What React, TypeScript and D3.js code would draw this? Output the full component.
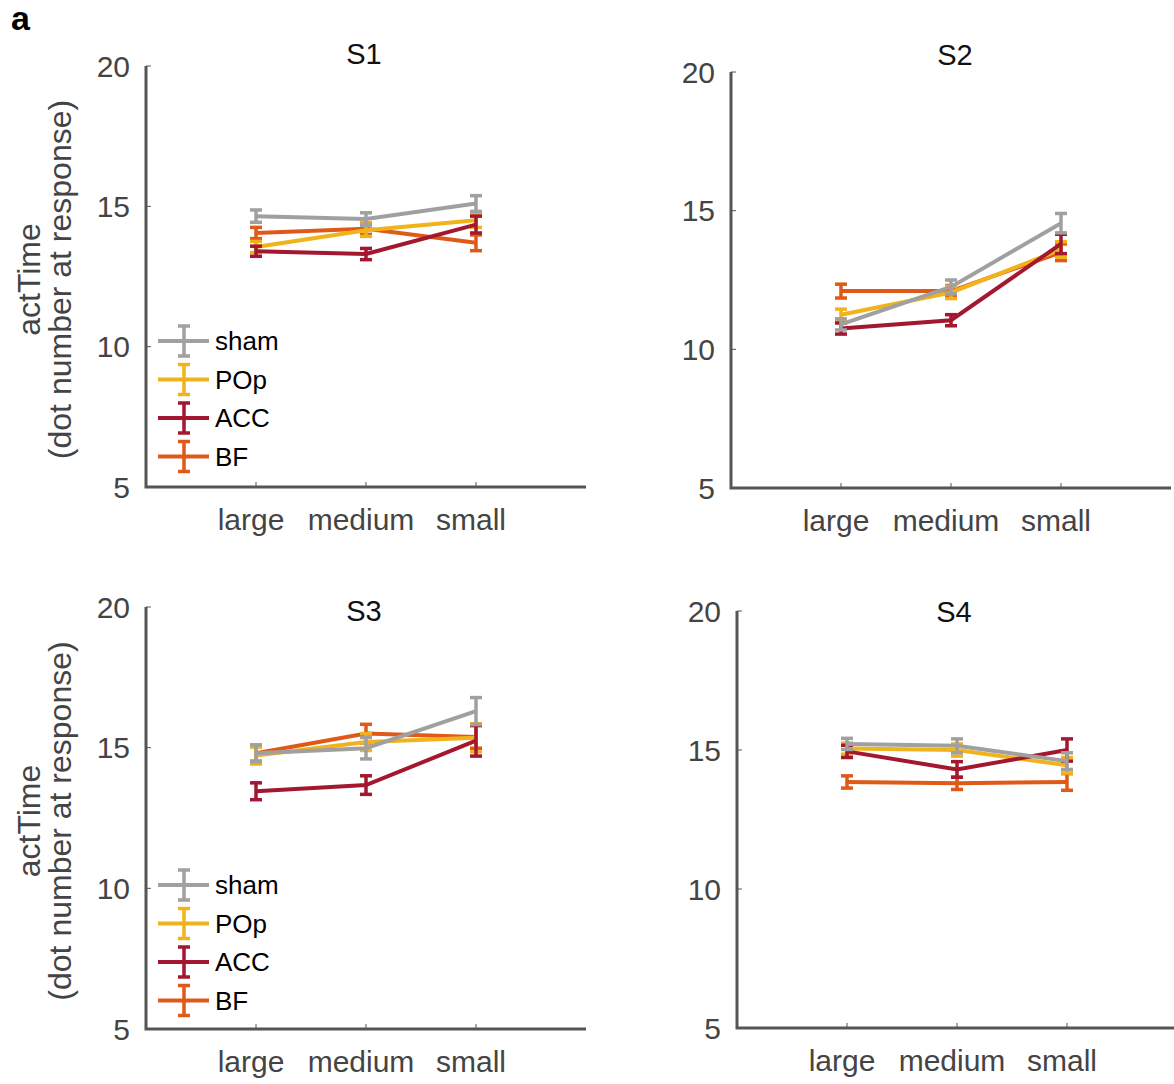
import React from 'react';
import * as d3 from 'd3';

const conditions = ['large', 'medium', 'small'];
const groups = ['sham', 'POp', 'ACC', 'BF'];
const groupColors = ['#a0a0a0', '#f1b31c', '#a3172f', '#df5a19'];
const yTicks = [5, 10, 15, 20];

// mean actTime per group (rows) and condition (cols)
const s1Mean = [[14.65, 14.55, 15.1], [13.55, 14.15, 14.5], [13.4, 13.3, 14.35], [14.05, 14.2, 13.7]];
const s1Sem = [[0.22, 0.22, 0.28], [0.2, 0.22, 0.25], [0.18, 0.2, 0.3], [0.2, 0.2, 0.28]];
const s2Mean = [[10.9, 12.25, 14.55], [11.25, 12.05, 13.6], [10.75, 11.05, 13.8], [12.1, 12.1, 13.5]];
const s2Sem = [[0.2, 0.25, 0.35], [0.2, 0.22, 0.28], [0.2, 0.2, 0.35], [0.25, 0.2, 0.3]];
const s3Mean = [[14.8, 14.98, 16.3], [14.72, 15.2, 15.35], [13.45, 13.67, 15.25], [14.8, 15.5, 15.38]];
const s3Sem = [[0.3, 0.38, 0.48], [0.3, 0.3, 0.5], [0.3, 0.33, 0.55], [0.28, 0.33, 0.4]];
const s4Mean = [[15.22, 15.15, 14.6], [15.05, 15.0, 14.45], [14.95, 14.3, 15.0], [13.85, 13.8, 13.85]];
const s4Sem = [[0.2, 0.25, 0.3], [0.2, 0.22, 0.28], [0.22, 0.28, 0.4], [0.22, 0.22, 0.3]];

const font = '"Liberation Sans", Arial, Helvetica, sans-serif';
const axisColor = '#555555';
const labelColor = '#444444';
const drawOrder = [3, 1, 2, 0];

function Panel({ title, titlePos, mean, sem, x0, x1, yTop, yBot, yLabel, legend }) {
  const x = d3.scaleLinear().domain([0, 4]).range([x0, x1]);
  const y = d3.scaleLinear().domain([5, 20]).range([yBot, yTop]);
  const line = d3.line<number>().x((d, i) => x(i + 1)).y(d => y(d));
  const cap = 6;
  const midY = (yTop + yBot) / 2;

  return (
    <g>
      <text x={titlePos[0]} y={titlePos[1]} textAnchor="middle" fontSize={29} fill="#111">{title}</text>

      {yTicks.map(t => (
        <g key={t}>
          <line x1={x0} x2={x0 + 5} y1={y(t)} y2={y(t)} stroke={axisColor} strokeWidth={1} />
          <text x={x0 - 16} y={y(t)} dy="0.36em" textAnchor="end" fontSize={30} fill={labelColor}>{t}</text>
        </g>
      ))}
      {conditions.map((c, i) => (
        <g key={c}>
          <line x1={x(i + 1)} x2={x(i + 1)} y1={yBot} y2={yBot - 5} stroke={axisColor} strokeWidth={1} />
          <text x={x(i + 1) - 5} y={yBot + 43} textAnchor="middle" fontSize={30} fill={labelColor}>{c}</text>
        </g>
      ))}
      <path d={`M${x0},${yTop}V${yBot}H${x1}`} fill="none" stroke={axisColor} strokeWidth={3} />

      {yLabel && (
        <text transform={`translate(40,${midY + 3}) rotate(-90)`} textAnchor="middle" fontSize={32} fill={labelColor}>
          <tspan x={0} dy={0}>actTime</tspan>
          <tspan x={0} dy={31}>(dot number at response)</tspan>
        </text>
      )}

      {drawOrder.map(g => (
        <g key={groups[g]} stroke={groupColors[g]} fill="none">
          <path d={line(mean[g])} strokeWidth={4} />
          {mean[g].map((m, i) => (
            <g key={i} strokeWidth={3.5}>
              <line x1={x(i + 1)} x2={x(i + 1)} y1={y(m - sem[g][i])} y2={y(m + sem[g][i])} />
              <line x1={x(i + 1) - cap} x2={x(i + 1) + cap} y1={y(m - sem[g][i])} y2={y(m - sem[g][i])} />
              <line x1={x(i + 1) - cap} x2={x(i + 1) + cap} y1={y(m + sem[g][i])} y2={y(m + sem[g][i])} />
            </g>
          ))}
        </g>
      ))}

      {legend && groups.map((name, g) => {
        const ly = legend.y + g * 38.5;
        return (
          <g key={name}>
            <g stroke={groupColors[g]} strokeWidth={3.5}>
              <line x1={158} x2={209} y1={ly} y2={ly} strokeWidth={4} />
              <line x1={184} x2={184} y1={ly - 15} y2={ly + 15} />
              <line x1={184 - cap} x2={184 + cap} y1={ly - 15} y2={ly - 15} />
              <line x1={184 - cap} x2={184 + cap} y1={ly + 15} y2={ly + 15} />
            </g>
            <text x={215} y={ly} dy="0.36em" fontSize={26} fill="#000">{name}</text>
          </g>
        );
      })}
    </g>
  );
}

export default function App() {
  return (
    <svg width={1174} height={1084} style={{ position: 'absolute', left: 0, top: 0, fontFamily: font }}>
      <rect width={1174} height={1084} fill="#fff" />
      <text x={11} y={30} fontSize={34} fontWeight="bold" fill="#000">a</text>
      <Panel title="S1" titlePos={[364, 64]} mean={s1Mean} sem={s1Sem} x0={146} x1={586} yTop={66} yBot={487} yLabel legend={{ y: 341 }} />
      <Panel title="S2" titlePos={[955, 65]} mean={s2Mean} sem={s2Sem} x0={731} x1={1171} yTop={72} yBot={488} yLabel={false} legend={null} />
      <Panel title="S3" titlePos={[364, 621]} mean={s3Mean} sem={s3Sem} x0={146} x1={586} yTop={607} yBot={1029} yLabel legend={{ y: 885 }} />
      <Panel title="S4" titlePos={[954, 622]} mean={s4Mean} sem={s4Sem} x0={737} x1={1177} yTop={611} yBot={1028} yLabel={false} legend={null} />
    </svg>
  );
}
